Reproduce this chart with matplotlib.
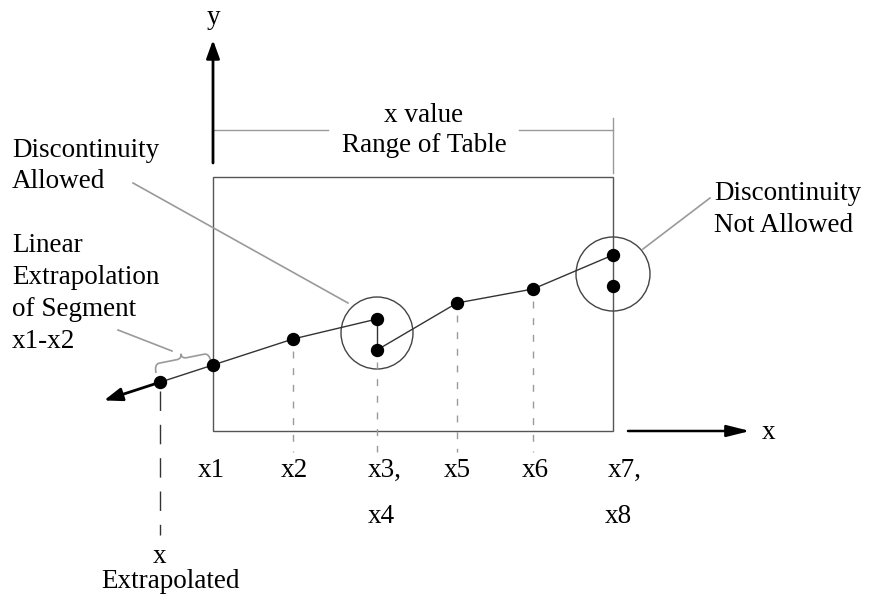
import numpy as np
import matplotlib.pyplot as plt
from matplotlib.path import Path
from matplotlib.patches import PathPatch, Rectangle, Circle

plt.rcParams['font.family'] = ['Liberation Serif', 'DejaVu Serif']
FS = 19.5

# table points (diagram coordinates, y grows downwards)
pt_x = [213, 293, 377, 377, 457, 533, 613, 613]
pt_y = [365, 339, 319, 350, 303, 289, 255, 286]
row1_labels = ['x1', 'x2', 'x3,', 'x5', 'x6', 'x7,']
row1_x = [211, 294, 368, 457, 535, 608]
row2_labels = ['x4', 'x8']
row2_x = [368, 605]
dashed_idx = [1, 3, 4, 5]

extrap_x = 160
arrow_tip_x = 104

table_left, table_right = 213, 613
table_top, table_bottom = 177, 431

fig = plt.figure(figsize=(8.77, 6.04), dpi=100)
ax = fig.add_axes([0, 0, 1, 1])
ax.set_xlim(0, 877)
ax.set_ylim(604, 0)
ax.axis('off')

dark = '#333333'
gray = '#9a9a9a'

# table range box
ax.add_patch(Rectangle((table_left, table_top), table_right - table_left,
                       table_bottom - table_top, fill=False, ec='#555555', lw=1))

# axes arrows
ax.annotate('', xy=(table_left, 40), xytext=(table_left, 163),
            arrowprops=dict(arrowstyle='-|>,head_length=1.1,head_width=0.4',
                            color='black', lw=2, shrinkA=0, shrinkB=0))
ax.annotate('', xy=(750, table_bottom), xytext=(628, table_bottom),
            arrowprops=dict(arrowstyle='-|>,head_length=1.4,head_width=0.35',
                            color='black', lw=1.8, shrinkA=0, shrinkB=0))
ax.text(table_left, 24, 'y', fontsize=FS, ha='center', va='baseline')
ax.text(762, 439, 'x', fontsize=FS, ha='left', va='baseline')

# range bracket
ax.plot([table_left, 328], [130, 130], color=gray, lw=1)
ax.plot([519, table_right], [130, 130], color=gray, lw=1)
ax.plot([table_right, table_right], [118, 173], color=gray, lw=1)
ax.text(424, 122, 'x value', fontsize=FS, ha='center', va='baseline')
ax.text(424, 152, 'Range of Table', fontsize=FS, ha='center', va='baseline')

# dashed drop lines
for i in dashed_idx:
    ax.plot([pt_x[i], pt_x[i]], [pt_y[i] + 12, 452], color=gray, lw=1,
            linestyle=(0, (5, 7)))

# piecewise linear segments
ax.plot(pt_x[:3], pt_y[:3], color=dark, lw=1)
ax.plot(pt_x[2:4], pt_y[2:4], color=dark, lw=1)
ax.plot(pt_x[3:7], pt_y[3:7], color=dark, lw=1)

# extrapolation of segment x1-x2
slope = (pt_y[1] - pt_y[0]) / (pt_x[1] - pt_x[0])
extrap_y = pt_y[0] + slope * (extrap_x - pt_x[0])
tip_y = pt_y[0] + slope * (arrow_tip_x - pt_x[0])
ax.plot([pt_x[0], extrap_x], [pt_y[0], extrap_y], color=dark, lw=1)
ax.annotate('', xy=(arrow_tip_x, tip_y), xytext=(extrap_x, extrap_y),
            arrowprops=dict(arrowstyle='-|>,head_length=1.1,head_width=0.4',
                            color='black', lw=2, shrinkA=0, shrinkB=0))
ax.plot([extrap_x, extrap_x], [extrap_y + 9, 535], color=dark, lw=1,
        linestyle=(0, (14, 10)))

ax.plot(pt_x, pt_y, 'o', color='black', markersize=8.6, zorder=5)
ax.plot([extrap_x], [extrap_y], 'o', color='black', markersize=8.6, zorder=5)

# discontinuity circles
ax.add_patch(Circle((377, 333), 36, fill=False, ec='#444444', lw=1))
ax.add_patch(Circle((613, 274), 37, fill=False, ec='#444444', lw=1))

# leader lines
ax.plot([133, 348], [183, 303], color=gray, lw=1.2)
ax.plot([643, 710], [249, 198], color=gray, lw=1.2)
ax.plot([118, 172], [330, 351], color=gray, lw=1.2)

# curly brace over the extrapolated segment
p0 = np.array([156.0, 373.0])
p1 = np.array([211.0, 362.0])
L = np.hypot(*(p1 - p0))
u = (p1 - p0) / L
v = np.array([u[1], -u[0]])
s, h, r = 9.0, 14.0, 5.0
local = [(0, 0), (0, s), (r, s), (L / 2 - r, s), (L / 2, s), (L / 2, h),
         (L / 2, s), (L / 2 + r, s), (L - r, s), (L, s), (L, 0)]
codes = [Path.MOVETO, Path.CURVE3, Path.CURVE3, Path.LINETO, Path.CURVE3,
         Path.CURVE3, Path.CURVE3, Path.CURVE3, Path.LINETO, Path.CURVE3,
         Path.CURVE3]
verts = [p0 + a * u + b * v for a, b in local]
ax.add_patch(PathPatch(Path(verts, codes), fill=False, ec=gray, lw=1.2))

# annotation texts
def block(x, y0, lines, dy=32):
    for i, line in enumerate(lines):
        ax.text(x, y0 + i * dy, line, fontsize=FS, ha='left', va='baseline')

block(12, 157, ['Discontinuity', 'Allowed'], dy=31)
block(12, 252, ['Linear', 'Extrapolation', 'of Segment', 'x1-x2'])
block(714, 200, ['Discontinuity', 'Not Allowed'], dy=32)

for lab, x in zip(row1_labels, row1_x):
    ha = 'left' if lab.endswith(',') else 'center'
    ax.text(x, 477, lab, fontsize=FS, ha=ha, va='baseline')
for lab, x in zip(row2_labels, row2_x):
    ax.text(x, 523, lab, fontsize=FS, ha='left', va='baseline')

ax.text(extrap_x, 563, 'x', fontsize=FS, ha='center', va='baseline')
ax.text(171, 588, 'Extrapolated', fontsize=FS, ha='center', va='baseline')

fig.savefig('out.png', dpi=100)
